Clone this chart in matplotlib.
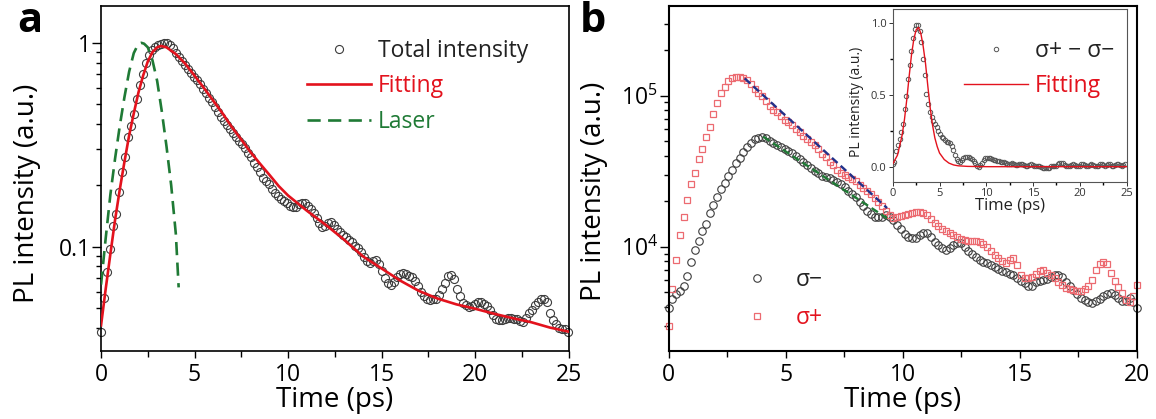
import numpy as np
import matplotlib
matplotlib.use("Agg")
import matplotlib.pyplot as plt
from matplotlib.ticker import (FixedLocator, MultipleLocator, LogLocator,
                               FuncFormatter, NullFormatter)

plt.rcParams['font.family'] = ['Open Sans', 'DejaVu Sans']

RED = '#e3121d'
GREEN = '#1f7a35'
NAVY = '#22318a'
SQUARE = '#ec6a70'
CIRCLE = '#3c3c3c'

# ---- panel a: total PL intensity (normalised), sampled every 0.16 ps ----
step_a = 0.16
total_intensity = [
    0.038, 0.056, 0.075, 0.097, 0.126, 0.145, 0.185, 0.232, 0.275, 0.345,
    0.39, 0.445, 0.53, 0.62, 0.70, 0.80, 0.87, 0.92, 0.955, 0.975,
    0.992, 1.0, 0.993, 0.975, 0.94, 0.89, 0.85, 0.81, 0.778, 0.745,
    0.712, 0.683, 0.655, 0.627, 0.595, 0.565, 0.537, 0.51, 0.482, 0.455,
    0.433, 0.415, 0.395, 0.376, 0.36, 0.345, 0.331, 0.318, 0.303, 0.288,
    0.274, 0.258, 0.245, 0.232, 0.218, 0.21, 0.202, 0.192, 0.184, 0.177,
    0.172, 0.168, 0.163, 0.158, 0.156, 0.157, 0.161, 0.164, 0.163, 0.158,
    0.152, 0.146, 0.138, 0.130, 0.125, 0.126, 0.131, 0.132, 0.128, 0.122,
    0.118, 0.114, 0.111, 0.108, 0.105, 0.101, 0.098, 0.094, 0.089, 0.085,
    0.083, 0.085, 0.086, 0.082, 0.076, 0.070, 0.066, 0.065, 0.067, 0.071,
    0.073, 0.074, 0.073, 0.072, 0.071, 0.068, 0.064, 0.060, 0.057, 0.055,
    0.0545, 0.055, 0.0555, 0.058, 0.062, 0.066, 0.0715, 0.0725, 0.069, 0.062,
    0.057, 0.053, 0.0515, 0.0505, 0.051, 0.0525, 0.0535, 0.0535, 0.0525, 0.051,
    0.049, 0.046, 0.044, 0.0435, 0.0435, 0.0442, 0.0445, 0.0445, 0.0443, 0.0442,
    0.043, 0.0428, 0.0445, 0.047, 0.049, 0.0515, 0.0535, 0.0555, 0.0555, 0.0535,
    0.047, 0.0435, 0.0415, 0.040, 0.0395, 0.0392, 0.038,
]

fit_a_t = [0, 0.25, 0.5, 0.75, 1.0, 1.25, 1.5, 1.75, 2.0, 2.25, 2.5, 2.75,
           3.0, 3.2, 3.5, 4.0, 4.5, 5.0, 5.5, 6.0, 6.5, 7.0, 7.5, 8.0, 8.5,
           9.0, 9.5, 10, 11, 12, 13, 14, 15, 16, 17, 18, 19, 20, 21, 22, 23,
           24, 25]
fit_a = [0.041, 0.062, 0.092, 0.135, 0.19, 0.26, 0.35, 0.45, 0.57, 0.69,
         0.81, 0.90, 0.95, 0.965, 0.95, 0.88, 0.79, 0.69, 0.60, 0.52, 0.45,
         0.385, 0.335, 0.29, 0.255, 0.225, 0.198, 0.178, 0.150, 0.128, 0.108,
         0.0895, 0.078, 0.068, 0.0605, 0.0555, 0.052, 0.0495, 0.0468, 0.0445,
         0.0425, 0.040, 0.0382]

laser_t = [0.0, 0.25, 0.5, 0.75, 1.0, 1.25, 1.5, 1.75, 2.0, 2.15, 2.3, 2.5,
           2.75, 3.0, 3.25, 3.5, 3.75, 4.0, 4.15]
laser = [0.065, 0.11, 0.18, 0.27, 0.39, 0.54, 0.72, 0.89, 0.99, 1.0, 0.99,
         0.95, 0.82, 0.65, 0.46, 0.31, 0.2, 0.115, 0.063]

# ---- panel b: circularly resolved PL, sampled every 0.16 ps ----
step_b = 0.16
sigma_minus = [
    3950, 4500, 4850, 5100, 5450, 6390, 7960, 9550, 10850, 12700,
    14150, 16700, 18800, 21300, 23900, 26500, 29500, 32400, 35600, 38800,
    42500, 45900, 48860, 51300, 52600, 53200, 52000, 50200, 48200, 46800,
    45500, 44300, 43100, 41900, 39900, 37900, 36400, 34700, 33100, 31700,
    30500, 29400, 28700, 28300, 27800, 26800, 25800, 24700, 23500, 22300,
    21200, 19800, 18500, 17200, 16400, 15800, 15600, 15800, 16100, 15600,
    14900, 13900, 13000, 12200, 11600, 11350, 11400, 11900, 12400, 12300,
    11500, 10800, 10260, 9800, 9500, 9750, 10200, 10500, 10500, 9900,
    9300, 8900, 8550, 8200, 7950, 7740, 7520, 7300, 7100, 6900,
    6750, 6620, 6490, 6220, 5930, 5700, 5500, 5450, 5800, 5950,
    6000, 6100, 6250, 6450, 6480, 6300, 5800, 5450, 5160, 4850,
    4600, 4400, 4280, 4220, 4350, 4500, 4700, 4850, 4900, 4750,
    4580, 4380, 4350, 4550, 4300, 3950,
]
sigma_plus = [
    3000, 5200, 8100, 12000, 15800, 20500, 25800, 30500, 38000, 44500,
    53500, 62000, 75000, 89000, 103600, 114000, 124000, 130300, 132000, 132500,
    131000, 127000, 119000, 110500, 103500, 99000, 92500, 85800, 80400, 77300,
    73000, 69400, 66400, 63400, 60000, 57100, 54000, 51600, 49300, 47000,
    44600, 41300, 39300, 36600, 34600, 32200, 30500, 29700, 29100, 28200,
    27000, 25700, 24300, 23400, 22200, 21000, 19800, 18500, 17300, 16300,
    15400, 15600, 15850, 16100, 16400, 16700, 16900, 16900, 16600, 16100,
    15200, 14300, 13600, 13000, 12700, 12400, 11900, 11600, 11300, 11050,
    10950, 10950, 10900, 10800, 10400, 9900, 9350, 8850, 8350, 8000,
    7800, 8100, 8380, 7500, 6450, 6200, 6150, 6300, 6550, 6850,
    6950, 6700, 6450, 6200, 5850, 5580, 5330, 5220, 5160, 5100,
    5050, 5200, 5500, 6050, 7000, 7700, 7950, 7700, 6700, 5900,
    5400, 4900, 4400, 4330, 4700, 5550,
]
plus_fit_t = [3.25, 9.33]
plus_fit = [1.30e5, 1.8e4]
minus_fit_t = [4.04, 9.33]
minus_fit = [5.35e4, 1.54e4]

# ---- inset: normalised difference, sampled every 0.18 ps ----
step_in = 0.18
difference = [
    0.02, 0.03, 0.11, 0.15, 0.19, 0.24, 0.30, 0.40, 0.49, 0.61,
    0.71, 0.81, 0.90, 0.96, 0.99, 0.99, 0.95, 0.87, 0.75, 0.64,
    0.51, 0.44, 0.38, 0.345, 0.32, 0.295, 0.275, 0.25, 0.225, 0.21,
    0.20, 0.185, 0.175, 0.17, 0.165, 0.145, 0.115, 0.08, 0.055, 0.04,
    0.035, 0.045, 0.06, 0.068, 0.07, 0.068, 0.062, 0.055, 0.04, 0.024,
    0.008, 0.0, 0.01, 0.026, 0.045, 0.058, 0.063, 0.062, 0.058, 0.053,
    0.049, 0.046, 0.042, 0.038, 0.036, 0.034, 0.03, 0.025, 0.02, 0.018,
    0.022, 0.024, 0.02, 0.012, 0.01, 0.016, 0.02, 0.018, 0.012, 0.006,
    0.004, 0.01, 0.016, 0.014, 0.006, 0.002, 0.006, 0.004, -0.004, -0.01,
    -0.012, -0.01, -0.012, -0.006, 0.002, 0.006, 0.004, 0.008, 0.016, 0.024,
    0.028, 0.024, 0.014, 0.006, 0.002, 0.006, 0.012, 0.016, 0.012, 0.006,
    0.002, 0.008, 0.016, 0.018, 0.012, 0.004, 0.006, 0.014, 0.018, 0.014,
    0.006, 0.002, 0.008, 0.016, 0.018, 0.012, 0.008, 0.014, 0.02, 0.016,
    0.008, 0.006, 0.012, 0.018, 0.016, 0.01, 0.008, 0.014, 0.016,
]
inset_fit_t = [0, 0.5, 1.0, 1.25, 1.5, 1.75, 2.0, 2.25, 2.5, 2.75, 3.0, 3.25,
               3.5, 3.75, 4.0, 4.25, 4.5, 4.75, 5.0, 5.5, 6.0, 6.5, 7.0, 8.0,
               10.0, 25.0]
inset_fit = [0.02, 0.08, 0.22, 0.33, 0.47, 0.63, 0.78, 0.89, 0.955, 0.972,
             0.93, 0.84, 0.72, 0.56, 0.41, 0.29, 0.20, 0.14, 0.095, 0.05,
             0.025, 0.012, 0.006, 0.002, 0.0, 0.0]

t_a = np.arange(len(total_intensity)) * step_a
t_b = np.arange(len(sigma_minus)) * step_b
t_in = np.arange(len(difference)) * step_in

TICK_SIZE = 16.5
LABEL_SIZE = 20
LEGEND_SIZE = 16.5


def style_axes(ax, labelsize=TICK_SIZE, major=6.5, minor=3.5, pad=2.5, lw=1.2):
    ax.tick_params(which='both', direction='out', width=1.0, top=False,
                   right=False, labelsize=labelsize, pad=pad)
    ax.tick_params(which='major', length=major)
    ax.tick_params(which='minor', length=minor)
    for sp in ax.spines.values():
        sp.set_linewidth(lw)


fig = plt.figure(figsize=(11.56, 4.19), dpi=100)
ax_a = fig.add_axes([0.0874, 0.1623, 0.4045, 0.8234])
ax_b = fig.add_axes([0.5783, 0.1623, 0.4053, 0.8234])
ax_in = fig.add_axes([0.7723, 0.5663, 0.2023, 0.4115])

# ---------------- panel a ----------------
ax_a.plot(t_a, total_intensity, 'o', ms=5.8, mfc='none', mec=CIRCLE, mew=0.8,
          clip_on=False, zorder=2, label='Total intensity')
ax_a.plot(fit_a_t, fit_a, '-', color=RED, lw=1.9, zorder=3, label='Fitting')
ax_a.plot(laser_t, laser, '--', color=GREEN, lw=1.9, dashes=(5, 2.8),
          zorder=3, label='Laser')
ax_a.set_yscale('log')
ax_a.set_xlim(0, 25)
ax_a.set_ylim(0.0307, 1.516)
ax_a.xaxis.set_major_locator(MultipleLocator(5))
ax_a.xaxis.set_minor_locator(MultipleLocator(2.5))
ax_a.yaxis.set_major_locator(FixedLocator([0.1, 1]))
ax_a.yaxis.set_major_formatter(FuncFormatter(lambda v, p: '1' if v >= 1 else '0.1'))
ax_a.yaxis.set_minor_locator(LogLocator(base=10, subs=np.arange(2, 10)))
ax_a.yaxis.set_minor_formatter(NullFormatter())
style_axes(ax_a)
ax_a.tick_params(axis='x', which='major', length=5, pad=3.5)
ax_a.tick_params(axis='x', which='minor', length=4.5)
ax_a.tick_params(axis='y', pad=1)
ax_a.set_xlabel('Time (ps)', fontsize=LABEL_SIZE)
ax_a.set_ylabel('PL intensity (a.u.)', fontsize=LABEL_SIZE)
ax_a.xaxis.set_label_coords(0.5, -0.102)
ax_a.yaxis.set_label_coords(-0.128, 0.458)
leg_a = ax_a.legend(loc='upper left', bbox_to_anchor=(0.4405, 0.905),
                    frameon=False, fontsize=LEGEND_SIZE, handlelength=2.8,
                    handletextpad=0.3, labelspacing=0.5, borderaxespad=0,
                    borderpad=0)
for txt, c in zip(leg_a.get_texts(), ['#222222', RED, GREEN]):
    txt.set_color(c)

# ---------------- panel b ----------------
ax_b.plot(t_b, sigma_minus, 'o', ms=5.4, mfc='none', mec=CIRCLE, mew=0.8,
          clip_on=False, zorder=2, label='σ−')
ax_b.plot(t_b, sigma_plus, 's', ms=4.8, mfc='none', mec=SQUARE, mew=0.9,
          clip_on=False, zorder=2, label='σ+')
ax_b.plot(plus_fit_t, plus_fit, '--', color=NAVY, lw=1.7, dashes=(3.2, 1.8),
          zorder=3)
ax_b.plot(minus_fit_t, minus_fit, '--', color=GREEN, lw=1.7, dashes=(3.2, 1.8),
          zorder=3)
ax_b.set_yscale('log')
ax_b.set_xlim(0, 20)
ax_b.set_ylim(2036, 3.92e5)
ax_b.xaxis.set_major_locator(MultipleLocator(5))
ax_b.xaxis.set_minor_locator(MultipleLocator(2.5))
ax_b.yaxis.set_minor_locator(LogLocator(base=10, subs=np.arange(2, 10)))
ax_b.yaxis.set_minor_formatter(NullFormatter())
style_axes(ax_b, lw=1.5)
ax_b.tick_params(axis='x', which='major', length=5, pad=3.5)
ax_b.tick_params(axis='x', which='minor', length=4.5)
ax_b.tick_params(axis='y', pad=1)
ax_b.set_xlabel('Time (ps)', fontsize=LABEL_SIZE)
ax_b.set_ylabel('PL intensity (a.u.)', fontsize=LABEL_SIZE)
ax_b.xaxis.set_label_coords(0.5, -0.102)
ax_b.yaxis.set_label_coords(-0.130, 0.462)
leg_b = ax_b.legend(loc='upper left', bbox_to_anchor=(0.1195, 0.24),
                    frameon=False, fontsize=LEGEND_SIZE, handlelength=2.8,
                    handletextpad=0.3, labelspacing=0.6, borderaxespad=0,
                    borderpad=0)
for txt, c in zip(leg_b.get_texts(), ['#222222', RED]):
    txt.set_color(c)

# ---------------- inset ----------------
ax_in.set_facecolor('white')
ax_in.plot(t_in, difference, 'o', ms=3.2, mfc='none', mec='#555555', mew=0.7,
           zorder=2, label='σ+ − σ−')
ax_in.plot(inset_fit_t, inset_fit, '-', color=RED, lw=1.0, zorder=3,
           label='Fitting')
ax_in.set_xlim(0, 25)
ax_in.set_ylim(-0.105, 1.098)
ax_in.xaxis.set_major_locator(MultipleLocator(5))
ax_in.xaxis.set_minor_locator(MultipleLocator(2.5))
ax_in.yaxis.set_major_locator(MultipleLocator(0.5))
ax_in.yaxis.set_minor_locator(MultipleLocator(0.25))
ax_in.yaxis.set_major_formatter(FuncFormatter(lambda v, p: f'{v:.1f}'))
style_axes(ax_in, labelsize=8, major=3, minor=2, pad=1.5, lw=0.8)
ax_in.tick_params(colors='#333333', width=0.7)
for sp in ax_in.spines.values():
    sp.set_color('#555555')
ax_in.set_xlabel('Time (ps)', fontsize=12, color='#222222')
ax_in.set_ylabel('PL intensity (a.u.)', fontsize=10, color='#222222')
ax_in.xaxis.set_label_coords(0.5, -0.095)
ax_in.yaxis.set_label_coords(-0.122, 0.465)
leg_in = ax_in.legend(loc='upper left', bbox_to_anchor=(0.304, 0.83),
                      frameon=False, fontsize=LEGEND_SIZE, handlelength=2.8,
                      handletextpad=0.3, labelspacing=0.5, borderaxespad=0,
                      borderpad=0)
for txt, c in zip(leg_in.get_texts(), ['#222222', RED]):
    txt.set_color(c)

fig.text(0.0147, 0.9236, 'a', fontsize=30, fontweight='bold', va='baseline')
fig.text(0.5017, 0.9236, 'b', fontsize=30, fontweight='bold', va='baseline')

fig.savefig('out.png', dpi=100)
